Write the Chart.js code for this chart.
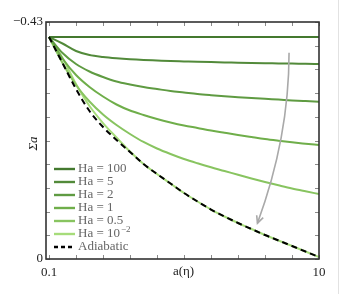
<!DOCTYPE html>
<html>
<head>
<meta charset="utf-8">
<script src="https://cdn.jsdelivr.net/npm/chart.js@4"></script>
<style>
	body { margin: 0; background: #fff; }
	#wrap { position: relative; width: 353px; height: 294px; }
	#edge { position: absolute; left: 338px; top: 0; width: 1px; height: 294px; background: #e2e2e2; }
</style>
</head>
<body>
<div id="wrap">
	<canvas id="sigma" width="353" height="294"></canvas>
	<div id="edge"></div>
</div>
<script>
// a(eta) sample points (log spaced)
const etaValues = [ 0.1, 0.1259, 0.1585, 0.1995, 0.2512, 0.3162, 0.3981, 0.5012, 0.631, 0.7943, 1,
	1.259, 1.585, 1.995, 2.512, 3.162, 3.981, 5.012, 6.31, 7.943, 10 ];

// Sigma a for each Hartmann number
const ha100 = [ -0.4028, -0.4028, -0.4028, -0.4028, -0.4028, -0.4028, -0.4028, -0.4028, -0.4028, -0.4028, -0.4028,
	-0.4028, -0.4028, -0.4028, -0.4028, -0.4028, -0.4028, -0.4028, -0.4028, -0.4028, -0.4028 ];
const ha5 = [ -0.4028, -0.3910, -0.3774, -0.3701, -0.3665, -0.3641, -0.3623, -0.3610, -0.3601, -0.3592, -0.3585,
	-0.3578, -0.3572, -0.3567, -0.3561, -0.3556, -0.3552, -0.3549, -0.3545, -0.3542, -0.3538 ];
const ha2 = [ -0.4028, -0.3737, -0.3538, -0.3402, -0.3302, -0.3220, -0.3166, -0.3121, -0.3084, -0.3048, -0.3021,
	-0.2994, -0.2972, -0.2952, -0.2936, -0.2921, -0.2906, -0.2892, -0.2877, -0.2865, -0.2854 ];
const ha1 = [ -0.4028, -0.3638, -0.3338, -0.3121, -0.2948, -0.2803, -0.2694, -0.2613, -0.2540, -0.2477, -0.2422,
	-0.2377, -0.2331, -0.2290, -0.2250, -0.2213, -0.2177, -0.2146, -0.2117, -0.2092, -0.2068 ];
const ha05 = [ -0.4028, -0.3556, -0.3157, -0.2858, -0.2622, -0.2431, -0.2268, -0.2123, -0.2005, -0.1905, -0.1814,
	-0.1736, -0.1664, -0.1597, -0.1528, -0.1461, -0.1397, -0.1337, -0.1279, -0.1228, -0.1179 ];
const ha001 = [ -0.4028, -0.3647, -0.3175, -0.2776, -0.2467, -0.2204, -0.1950, -0.1724, -0.1542, -0.1370, -0.1197,
	-0.1043, -0.0898, -0.0771, -0.0653, -0.0544, -0.0435, -0.0336, -0.0236, -0.0136, -0.0036 ];
const adiabatic = [ -0.4028, -0.3556, -0.3084, -0.2685, -0.2395, -0.2159, -0.1941, -0.1724, -0.1542, -0.1370, -0.1197,
	-0.1043, -0.0898, -0.0771, -0.0653, -0.0544, -0.0435, -0.0336, -0.0236, -0.0136, -0.0036 ];

// ticks
const xTicks = [ 0.1, 0.158, 0.251, 0.398, 0.631, 1, 1.585, 2.512, 3.981, 6.31, 10 ];
const yTicks = [ -0.43, -0.387, -0.344, -0.301, -0.258, -0.215, -0.172, -0.129, -0.086, -0.043, 0 ];

// grey arrow (start, bend, tip) in data units
const arrowPath = [ [ 6.0, -0.374 ], [ 6.0, -0.22 ], [ 3.5, -0.065 ] ];

const serif = '"Liberation Serif", "DejaVu Serif", serif';

const toPoints = function ( ys ) {
	return etaValues.map( function ( x, i ) {
		return { x: x, y: ys[ i ] };
	} );
};

const line = function ( label, ys, color, extra ) {
	return Object.assign( {
		label: label,
		data: toPoints( ys ),
		borderColor: color,
		backgroundColor: color,
		borderWidth: 2,
		pointRadius: 0,
		cubicInterpolationMode: 'monotone',
		fill: false
	}, extra || {} );
};

const decor = {
	id: 'decor',
	afterDatasetsDraw: function ( chart ) {
		// arrow
		const ctx = chart.ctx;
		const xs = chart.scales.x;
		const ys = chart.scales.y;
		const p = arrowPath.map( function ( pt ) {
			return [ xs.getPixelForValue( pt[ 0 ] ), ys.getPixelForValue( pt[ 1 ] ) ];
		} );
		ctx.save();
		ctx.strokeStyle = '#a9a9a9';
		ctx.lineWidth = 1.6;
		ctx.beginPath();
		ctx.moveTo( p[ 0 ][ 0 ], p[ 0 ][ 1 ] );
		ctx.quadraticCurveTo( p[ 1 ][ 0 ], p[ 1 ][ 1 ], p[ 2 ][ 0 ], p[ 2 ][ 1 ] );
		ctx.stroke();
		const ang = Math.atan2( p[ 2 ][ 1 ] - p[ 1 ][ 1 ], p[ 2 ][ 0 ] - p[ 1 ][ 0 ] );
		ctx.beginPath();
		ctx.moveTo( p[ 2 ][ 0 ] - 8 * Math.cos( ang - 0.45 ), p[ 2 ][ 1 ] - 8 * Math.sin( ang - 0.45 ) );
		ctx.lineTo( p[ 2 ][ 0 ], p[ 2 ][ 1 ] );
		ctx.lineTo( p[ 2 ][ 0 ] - 8 * Math.cos( ang + 0.45 ), p[ 2 ][ 1 ] - 8 * Math.sin( ang + 0.45 ) );
		ctx.stroke();
		ctx.restore();
	},
	afterDraw: function ( chart ) {
		const ctx = chart.ctx;
		const area = chart.chartArea;
		const xs = chart.scales.x;
		const ys = chart.scales.y;
		ctx.save();

		// inward ticks
		ctx.strokeStyle = '#8a8a8a';
		ctx.lineWidth = 1;
		ctx.beginPath();
		xTicks.forEach( function ( v ) {
			const px = Math.round( xs.getPixelForValue( v ) ) + 0.5;
			ctx.moveTo( px, area.top );
			ctx.lineTo( px, area.top + 4 );
			ctx.moveTo( px, area.bottom );
			ctx.lineTo( px, area.bottom - 4 );
		} );
		yTicks.forEach( function ( v ) {
			const py = Math.round( ys.getPixelForValue( v ) ) + 0.5;
			ctx.moveTo( area.left, py );
			ctx.lineTo( area.left + 4, py );
			ctx.moveTo( area.right, py );
			ctx.lineTo( area.right - 4, py );
		} );
		ctx.stroke();

		// frame
		ctx.strokeStyle = '#333';
		ctx.lineWidth = 1.6;
		ctx.strokeRect( area.left, area.top, area.right - area.left, area.bottom - area.top );

		// axis titles
		ctx.fillStyle = '#222';
		ctx.textAlign = 'center';
		ctx.textBaseline = 'middle';
		ctx.font = '13px ' + serif;
		ctx.fillText( 'a(η)', ( area.left + area.right ) / 2 + 1, area.bottom + 13 );
		ctx.save();
		ctx.translate( area.left - 12, ( area.top + area.bottom ) / 2 + 3 );
		ctx.rotate( -Math.PI / 2 );
		ctx.font = 'italic 13px ' + serif;
		ctx.fillText( 'Σa', 0, 0 );
		ctx.restore();

		// legend
		const sets = chart.data.datasets;
		const rowH = 13;
		const x0 = area.left + 8;
		let y = area.bottom - 12 - rowH * ( sets.length - 1 );
		ctx.textAlign = 'left';
		sets.forEach( function ( ds ) {
			ctx.strokeStyle = ds.borderColor;
			ctx.lineWidth = 2.4;
			ctx.setLineDash( ds.borderDash ? [ 4, 3 ] : [] );
			ctx.beginPath();
			ctx.moveTo( x0, y );
			ctx.lineTo( x0 + 21, y );
			ctx.stroke();
			ctx.setLineDash( [] );
			ctx.fillStyle = '#666';
			ctx.font = '13px ' + serif;
			const parts = ds.label.split( '^' );
			ctx.fillText( parts[ 0 ], x0 + 24, y );
			if ( parts[ 1 ] ) {
				const w = ctx.measureText( parts[ 0 ] ).width;
				ctx.font = '9px ' + serif;
				ctx.fillText( parts[ 1 ], x0 + 24 + w + 1, y - 4 );
			}
			y += rowH;
		} );
		ctx.restore();
	}
};

const ctx = document.getElementById( 'sigma' ).getContext( '2d' );
new Chart( ctx, {
	type: 'line',
	data: {
		datasets: [
			line( 'Ha = 100', ha100, '#44792f' ),
			line( 'Ha = 5', ha5, '#528a3a' ),
			line( 'Ha = 2', ha2, '#5f9b42' ),
			line( 'Ha = 1', ha1, '#6fae4a' ),
			line( 'Ha = 0.5', ha05, '#88c460' ),
			line( 'Ha = 10^−2', ha001, '#a6dc7a' ),
			line( 'Adiabatic', adiabatic, '#000', { borderDash: [ 6, 4 ], order: -1 } )
		]
	},
	options: {
		responsive: false,
		animation: false,
		layout: { padding: { top: 22, right: 34, left: 0, bottom: 0 } },
		plugins: {
			legend: { display: false },
			tooltip: { enabled: false }
		},
		scales: {
			x: {
				type: 'logarithmic',
				min: 0.095,
				max: 10,
				grid: { display: false, drawTicks: false },
				border: { display: false },
				afterBuildTicks: function ( scale ) {
					scale.ticks = xTicks.map( function ( v ) { return { value: v }; } );
				},
				afterFit: function ( scale ) { scale.height = 35; },
				ticks: {
					autoSkip: false,
					maxRotation: 0,
					padding: 6,
					color: '#222',
					font: { family: serif, size: 13 },
					callback: function ( v ) {
						if ( v === 0.1 ) return '0.1';
						if ( v === 10 ) return '10';
						return '';
					}
				}
			},
			y: {
				type: 'linear',
				reverse: true,
				min: -0.43,
				max: 0,
				grid: { display: false, drawTicks: false },
				border: { display: false },
				afterBuildTicks: function ( scale ) {
					scale.ticks = yTicks.map( function ( v ) { return { value: v }; } );
				},
				afterFit: function ( scale ) { scale.width = 46; },
				ticks: {
					autoSkip: false,
					padding: 3,
					color: '#222',
					font: { family: serif, size: 13 },
					callback: function ( v ) {
						if ( v === -0.43 ) return '−0.43';
						if ( v === 0 ) return '0';
						return '';
					}
				}
			}
		}
	},
	plugins: [ decor ]
} );
</script>
</body>
</html>
